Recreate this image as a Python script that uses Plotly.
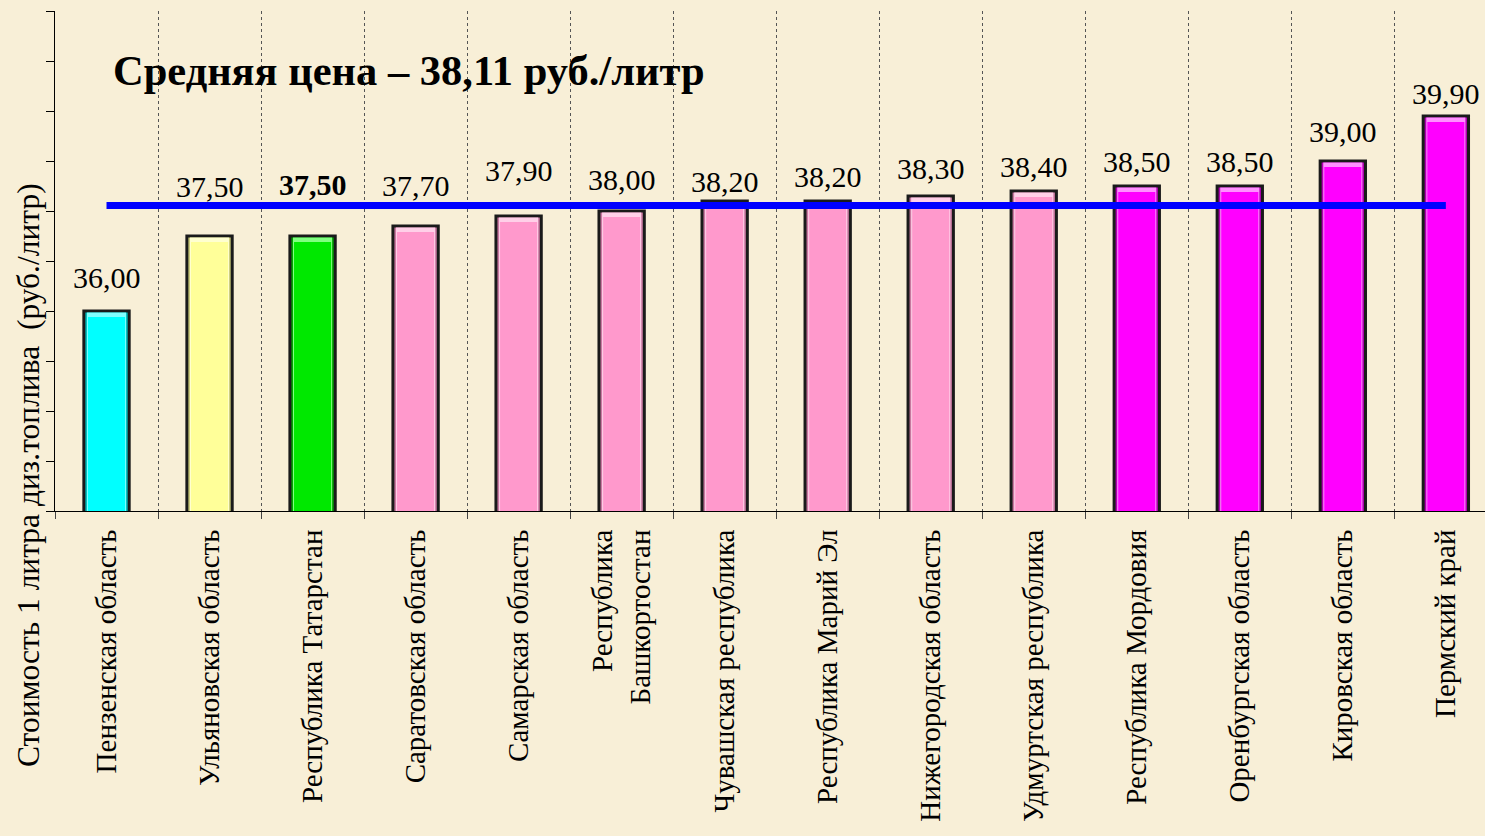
import plotly.graph_objects as go

categories = [
    "Пензенская область", "Ульяновская область", "Республика Татарстан",
    "Саратовская область", "Самарская область", "Республика<br>Башкортостан",
    "Чувашская республика", "Республика Марий Эл", "Нижегородская область",
    "Удмуртская республика", "Республика Мордовия", "Оренбургская область",
    "Кировская область", "Пермский край",
]
prices = [36.00, 37.50, 37.50, 37.70, 37.90, 38.00, 38.20, 38.20, 38.30, 38.40,
          38.50, 38.50, 39.00, 39.90]
bar_colors = ["#00FFFF", "#FFFF99", "#00E800"] + ["#FF99CC"] * 7 + ["#FF00FF"] * 4
edge_colors = ["#00B8B8", "#C8C878", "#00A000"] + ["#C878A0"] * 7 + ["#B000B0"] * 4
top_colors = ["#80FFFF", "#FFFFD0", "#80FF80"] + ["#FFD0E8"] * 7 + ["#FF90FF"] * 4
average_price = 38.11
bold_index = 2
# vertical pixel offsets of the value labels above the bar tops (style only)
label_shift = [34, 50, 52, 41, 46, 32, 20, 25, 28, 25, 25, 25, 30, 23]

font_family = "Liberation Serif, Times New Roman, serif"
bevel = 0.12  # axis units of the lighter top bevel

fig = go.Figure()
# outer bar (darker edges + outline)
fig.add_trace(go.Bar(
    x=categories, y=prices, width=0.44,
    marker=dict(color=edge_colors, line=dict(color="#1a1a1a", width=3)),
    showlegend=False, hoverinfo="skip",
))
# lighter top bevel
fig.add_trace(go.Bar(
    x=categories, y=[p - 0.03 for p in prices], width=0.38,
    marker=dict(color=top_colors, line=dict(width=0)),
    showlegend=False, hoverinfo="skip",
))
# main face
fig.add_trace(go.Bar(
    x=categories, y=[p - bevel for p in prices], width=0.36,
    marker=dict(color=bar_colors, line=dict(width=0)),
    showlegend=False, hoverinfo="skip",
))
fig.add_trace(go.Scatter(
    x=[categories[0], categories[-1]], y=[average_price, average_price],
    mode="lines", line=dict(color="#0000FF", width=7),
    showlegend=False, hoverinfo="skip",
))

annotations = []
for i, (c, v) in enumerate(zip(categories, prices)):
    s = f"{v:.2f}".replace(".", ",")
    if i == bold_index:
        s = f"<b>{s}</b>"
    annotations.append(dict(
        x=c, y=v, xref="x", yref="y", text=s, showarrow=False,
        xanchor="center", yanchor="middle", yshift=label_shift[i],
        font=dict(family=font_family, size=30, color="black"),
    ))

annotations.append(dict(
    text="<b>Средняя цена – 38,11 руб./литр</b>", xref="paper", yref="paper",
    x=(111 - 55) / 1430, y=(511 - 70) / 500, xanchor="left", yanchor="middle",
    showarrow=False, font=dict(family=font_family, size=42.5, color="black")))
annotations.append(dict(
    text="Стоимость 1 литра диз.топлива\u00a0\u00a0(руб./литр)", xref="paper", yref="paper",
    x=(28 - 55) / 1430, y=(511 - 475) / 500, xanchor="center", yanchor="middle",
    textangle=-90, showarrow=False,
    font=dict(family=font_family, size=31.5, color="black")))

fig.update_layout(
    width=1485, height=836,
    margin=dict(l=55, r=0, t=11, b=325),
    paper_bgcolor="#F8EFD7", plot_bgcolor="rgba(0,0,0,0)",
    barmode="overlay",
    font=dict(family=font_family, color="black"),
    xaxis=dict(
        type="category", range=[-0.5, 13.38],
        tickson="boundaries", ticks="outside", ticklen=7, tickcolor="#444",
        showgrid=True, gridcolor="#555", griddash="dot", gridwidth=1,
        tickangle=-90, tickfont=dict(family=font_family, size=29, color="black"),
        ticklabelstandoff=6,
        showline=True, linecolor="black", linewidth=1,
    ),
    yaxis=dict(
        range=[32, 42], dtick=1, tick0=32, showticklabels=False,
        ticks="outside", ticklen=8, tickcolor="black",
        showgrid=False, zeroline=False,
        showline=True, linecolor="black", linewidth=1,
    ),
    annotations=annotations,
)

fig.write_html("out.html", config={"displayModeBar": False},
               post_script="document.body.style.margin='0';")
